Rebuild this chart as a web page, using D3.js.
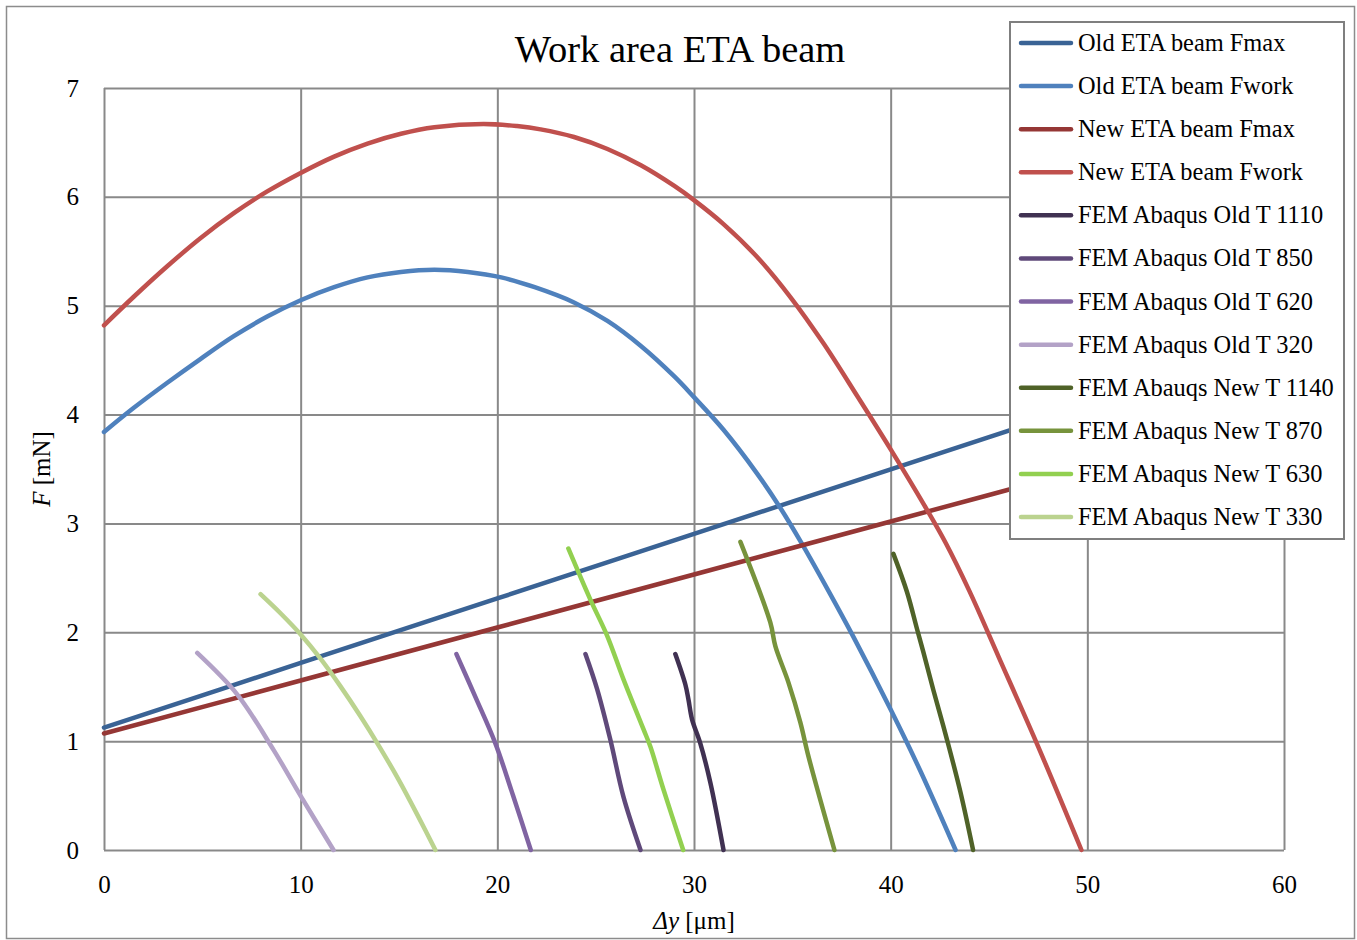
<!DOCTYPE html>
<html>
<head>
<meta charset="utf-8">
<script src="https://cdn.jsdelivr.net/npm/d3@7"></script>
<style>
  html, body { margin: 0; padding: 0; background: #fff; }
  svg { display: block; }
  text { font-family: "Liberation Serif", "DejaVu Serif", serif; fill: #000; }
</style>
</head>
<body>
<svg id="chart" width="1357" height="940"></svg>
<script>
// ---- data (Δy in µm, F in mN) ----
const xTicks = [0, 10, 20, 30, 40, 50, 60];
const yTicks = [0, 1, 2, 3, 4, 5, 6, 7];

const seriesNames = [
  "Old ETA beam Fmax", "Old ETA beam Fwork", "New ETA beam Fmax", "New ETA beam Fwork",
  "FEM Abaqus Old T 1110", "FEM Abaqus Old T 850", "FEM Abaqus Old T 620", "FEM Abaqus Old T 320",
  "FEM Abauqs New T 1140", "FEM Abaqus New T 870", "FEM Abaqus New T 630", "FEM Abaqus New T 330"
];
const seriesColors = [
  "#3A6395", "#4F81BD", "#953735", "#C0504D",
  "#403152", "#5F497A", "#8064A2", "#B3A2C7",
  "#4F6228", "#77933C", "#92D050", "#BBD38F"
];

const oldFmaxX = [0, 10, 20, 30, 40, 50, 60];
const oldFmaxF = [1.125, 1.718, 2.311, 2.904, 3.497, 4.090, 4.683];

const oldFworkX = [0, 1.5, 3.2, 4.9, 6.6, 8.3, 10, 11.7, 13.4, 15.1, 16.8, 18.5, 20.2, 21.9, 23.9, 25.6, 27.3, 29.0, 30.0, 31.5, 33.2, 34.4, 35.5, 36.9, 38.1, 40.0, 41.5, 43.3];
const oldFworkF = [3.84, 4.06, 4.29, 4.51, 4.72, 4.90, 5.05, 5.17, 5.26, 5.31, 5.33, 5.31, 5.26, 5.17, 5.03, 4.86, 4.63, 4.35, 4.16, 3.86, 3.46, 3.14, 2.81, 2.36, 1.96, 1.29, 0.73, 0];

const newFmaxX = [0, 10, 20, 30, 40, 50, 60];
const newFmaxF = [1.07, 1.557, 2.044, 2.531, 3.018, 3.505, 3.992];

const newFworkX = [0, 1.5, 3.2, 4.9, 6.6, 8.3, 10, 11.7, 13.4, 15.1, 16.8, 19.3, 21.0, 22.2, 23.9, 25.6, 27.3, 29.0, 30.0, 31.5, 33.2, 34.9, 36.6, 38.3, 40.0, 41.7, 42.8, 44.0, 45.5, 47.5, 49.7];
const newFworkF = [4.82, 5.08, 5.36, 5.62, 5.85, 6.05, 6.22, 6.37, 6.49, 6.58, 6.64, 6.67, 6.65, 6.62, 6.55, 6.44, 6.29, 6.10, 5.97, 5.75, 5.45, 5.08, 4.65, 4.17, 3.68, 3.17, 2.82, 2.38, 1.77, 0.95, 0];

const femOld1110X = [29.05, 29.56, 29.72, 29.90, 30.32, 30.83, 31.50];
const femOld1110F = [1.80, 1.52, 1.38, 1.20, 0.98, 0.62, 0];

const femOld850X = [24.48, 25.07, 25.75, 26.41, 27.28];
const femOld850F = [1.80, 1.48, 1.01, 0.49, 0];

const femOld620X = [17.92, 18.90, 19.90, 20.80, 21.70];
const femOld620F = [1.80, 1.40, 0.98, 0.50, 0];

const femOld320X = [4.74, 6.77, 8.62, 9.99, 11.67];
const femOld320F = [1.81, 1.43, 0.92, 0.50, 0];

const femNew1140X = [40.14, 40.83, 41.34, 41.66, 42.17, 42.87, 43.55, 44.19];
const femNew1140F = [2.72, 2.37, 2.03, 1.82, 1.47, 1.01, 0.53, 0];

const femNew870X = [32.36, 33.88, 34.14, 34.80, 35.41, 35.82, 37.14];
const femNew870F = [2.83, 2.09, 1.87, 1.54, 1.17, 0.86, 0];

const femNew630X = [23.61, 24.73, 25.58, 26.41, 27.43, 27.78, 28.44, 29.45];
const femNew630F = [2.77, 2.30, 1.97, 1.57, 1.11, 0.95, 0.56, 0];

const femNew330X = [7.96, 9.0, 10.0, 11.0, 12.0, 13.0, 14.0, 15.0, 16.0, 16.85];
const femNew330F = [2.35, 2.17, 1.98, 1.76, 1.51, 1.24, 0.95, 0.64, 0.30, 0];

const seriesX = [oldFmaxX, oldFworkX, newFmaxX, newFworkX,
  femOld1110X, femOld850X, femOld620X, femOld320X,
  femNew1140X, femNew870X, femNew630X, femNew330X];
const seriesF = [oldFmaxF, oldFworkF, newFmaxF, newFworkF,
  femOld1110F, femOld850F, femOld620F, femOld320F,
  femNew1140F, femNew870F, femNew630F, femNew330F];

// ---- layout ----
const svg = d3.select("#chart");
const plot = { left: 104, right: 1284, top: 88, bottom: 850 };

const x = d3.scaleLinear().domain([0, 60]).range([plot.left, plot.right]);
const y = d3.scaleLinear().domain([0, 7]).range([plot.bottom, plot.top]);

// outer chart frame
svg.append("rect")
  .attr("x", 6.5).attr("y", 6.5).attr("width", 1348).attr("height", 932)
  .attr("fill", "#fff").attr("stroke", "#8c8c8c").attr("stroke-width", 1.5);

// title
svg.append("text")
  .attr("x", 680).attr("y", 62)
  .attr("text-anchor", "middle")
  .style("font-size", "38.5px")
  .text("Work area ETA beam");

// axes with full-length ticks acting as gridlines
const gridColor = "#898989";
const xAxis = svg.append("g")
  .attr("transform", `translate(0,${plot.bottom})`)
  .call(d3.axisBottom(x).tickValues(xTicks).tickFormat(d3.format("d"))
    .tickSize(-(plot.bottom - plot.top)).tickPadding(25));
const yAxis = svg.append("g")
  .attr("transform", `translate(${plot.left},0)`)
  .call(d3.axisLeft(y).tickValues(yTicks).tickFormat(d3.format("d"))
    .tickSize(-(plot.right - plot.left)).tickPadding(25));

[xAxis, yAxis].forEach(g => {
  g.select(".domain").remove();
  g.selectAll(".tick line").attr("stroke", gridColor).attr("stroke-width", 2);
  g.selectAll(".tick text")
    .style("font-family", '"Liberation Serif", serif')
    .style("font-size", "25px").attr("fill", "#000");
});

// axis titles
const yTitle = svg.append("text")
  .attr("transform", `translate(50,${(plot.top + plot.bottom) / 2}) rotate(-90)`)
  .attr("text-anchor", "middle")
  .style("font-size", "25px");
yTitle.append("tspan").style("font-style", "italic").text("F");
yTitle.append("tspan").text(" [mN]");

const xTitle = svg.append("text")
  .attr("x", (plot.left + plot.right) / 2).attr("y", 929)
  .attr("text-anchor", "middle")
  .style("font-size", "25px");
xTitle.append("tspan").style("font-style", "italic").text("Δy");
xTitle.append("tspan").text(" [μm]");

// series lines
const line = d3.line()
  .x(d => x(d[0]))
  .y(d => y(d[1]))
  .curve(d3.curveCatmullRom.alpha(0.5));

const linesG = svg.append("g");
seriesNames.forEach((name, i) => {
  const pts = seriesX[i].map((v, k) => [v, seriesF[i][k]]);
  linesG.append("path")
    .datum(pts)
    .attr("d", line)
    .attr("fill", "none")
    .attr("stroke", seriesColors[i])
    .attr("stroke-width", 4.5)
    .attr("stroke-linecap", "round")
    .attr("stroke-linejoin", "round");
});

// legend
const legend = svg.append("g");
legend.append("rect")
  .attr("x", 1010).attr("y", 22).attr("width", 334).attr("height", 517)
  .attr("fill", "#fff").attr("stroke", "#7f7f7f").attr("stroke-width", 2);

const rowY = d3.scalePoint().domain(seriesNames).range([43, 517]);
seriesNames.forEach((name, i) => {
  const cy = rowY(name);
  legend.append("line")
    .attr("x1", 1021).attr("x2", 1071).attr("y1", cy).attr("y2", cy)
    .attr("stroke", seriesColors[i]).attr("stroke-width", 4.5)
    .attr("stroke-linecap", "round");
  legend.append("text")
    .attr("x", 1078).attr("y", cy + 8)
    .style("font-size", "24.4px")
    .text(name);
});
</script>
</body>
</html>
